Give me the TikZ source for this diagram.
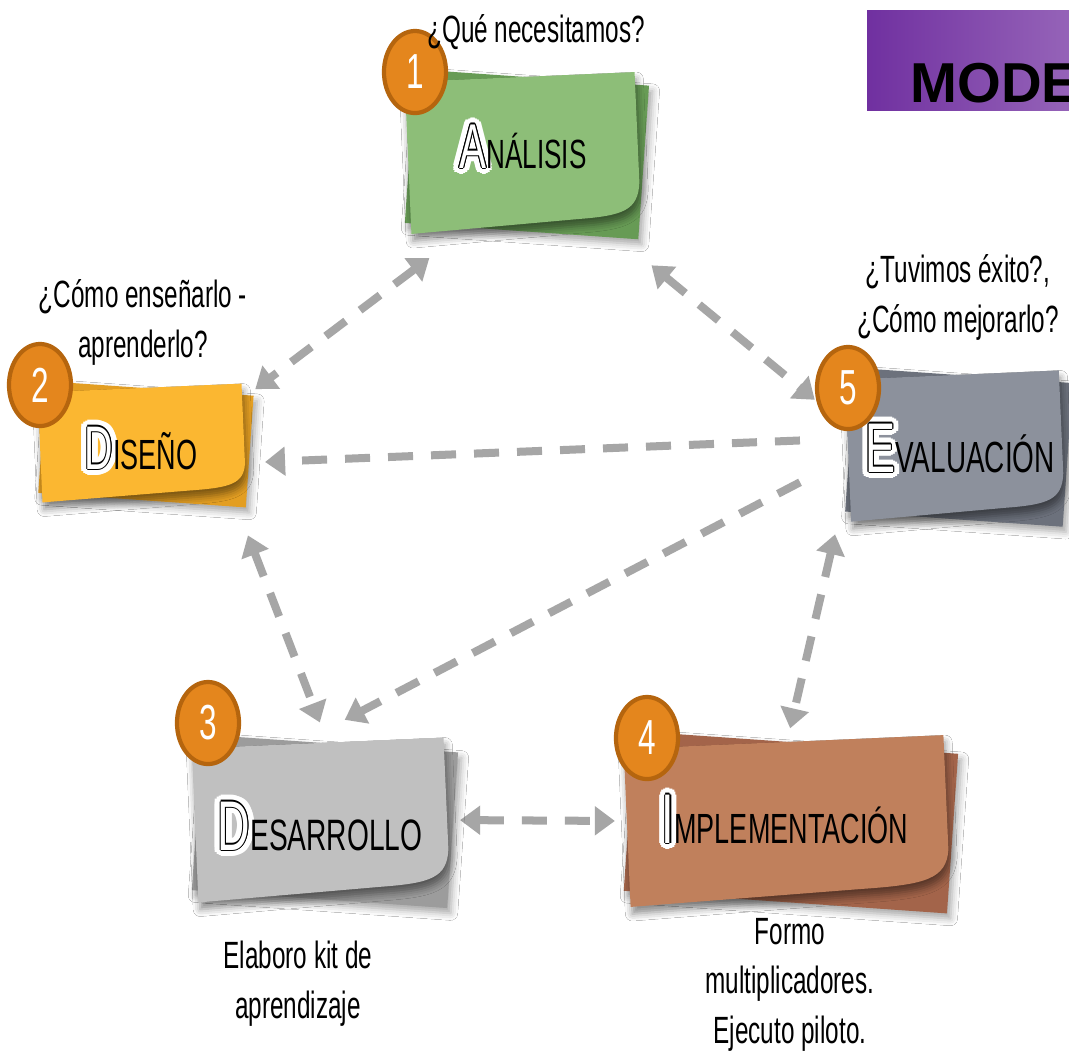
\documentclass[tikz,border=0pt]{standalone}
\usepackage{fontspec}
\setmainfont{Liberation Sans}
\newfontfamily\narrowfont{Liberation Sans}[FakeStretch=0.64]
\usetikzlibrary{arrows.meta,shapes.geometric,shadows.blur}

\definecolor{anagreen}{HTML}{8DBE78}
\definecolor{anadark}{HTML}{679B55}
\definecolor{disyellow}{HTML}{FBB731}
\definecolor{disdark}{HTML}{E39E22}
\definecolor{evagray}{HTML}{8C919C}
\definecolor{evadark}{HTML}{6C717C}
\definecolor{desgray}{HTML}{C0C0C0}
\definecolor{desdark}{HTML}{9C9C9C}
\definecolor{impbrown}{HTML}{C0805C}
\definecolor{impdark}{HTML}{A3644A}
\definecolor{badgeorange}{HTML}{E4861D}
\definecolor{badgeline}{HTML}{B5650E}
\definecolor{arrowgray}{HTML}{A6A6A6}
\definecolor{bannerleft}{HTML}{7030A0}
\definecolor{bannerright}{HTML}{9563B8}

% big first letter: white, thin black outline, white glow
\newcommand\initial[2]{%
  {\fontsize{#1}{#1}\selectfont
   \foreach \a in {0,22.5,...,337.5}{\rlap{\kern\fpeval{1.8*cosd(\a)}pt\raise\fpeval{1.8*sind(\a)}pt\hbox{\color{white}#2}}}%
   \foreach \a in {0,45,...,315}{\rlap{\kern\fpeval{0.3*cosd(\a)}pt\raise\fpeval{0.3*sind(\a)}pt\hbox{\color{black}#2}}}%
   \textcolor{white}{#2}}}

\tikzset{
  pics/note/.style n args={4}{code={
    % back sheet
    \fill[#4, rotate=-4, blur shadow={shadow xshift=1pt, shadow yshift=-1.5pt, shadow blur radius=2pt, shadow opacity=35}]
      (-#1+2,-#2) -- (#1+6,-#2) -- (#1+6,#2+2) -- (-#1+2,#2+2) -- cycle;
    % front sheet, curled corner bottom right
    \fill[#3, rotate=2.5, blur shadow={shadow xshift=0.5pt, shadow yshift=-2pt, shadow blur radius=2pt, shadow opacity=45}]
      (-#1,-#2) -- (#1,-#2) -- (#1,0.45*#2)
      .. controls (0.98*#1,0.82*#2) and (0.85*#1,0.88*#2) .. (0.45*#1,0.9*#2)
      -- (-#1,#2) -- cycle;
  }},
}

\begin{document}
\begin{tikzpicture}[x=0.01cm, y=-0.01cm,
  box/.style={rectangle, inner sep=0, outer sep=0},
  title/.style={font=\narrowfont, inner sep=0, anchor=base},
  txt/.style={font=\narrowfont\fontsize{10.8}{14}\selectfont, align=center, inner sep=0, anchor=base},
  badge/.style={ellipse, fill=badgeorange, draw=badgeline, line width=1.2pt,
    minimum width=0.62cm, minimum height=0.82cm, inner sep=0, text=white,
    font=\narrowfont\fontsize{14}{14}\selectfont},
  conn/.style={draw=arrowgray, line width=0.08cm, dash pattern=on 0.25cm off 0.18cm,
    >={Triangle[length=0.2cm,width=0.28cm]}}]

\useasboundingbox (0,0) rectangle (1069,1056);
\fill[white] (0,0) rectangle (1069,1056);
\clip (0,0) rectangle (1069,1056);

% banner
\fill[left color=bannerleft, right color=bannerright] (867,10) rectangle (1069,110);
\node[anchor=base west, inner sep=0, font=\bfseries\fontsize{16}{16}\selectfont] (banner) at (910,102) {MODE};

% card areas
\node[box, minimum width=2.3cm, minimum height=1.52cm] (ana) at (523,153) {};
\node[box, minimum width=2.04cm, minimum height=1.1cm] (dis) at (142,443) {};
\node[box, minimum width=2.14cm, minimum height=1.42cm] (eva) at (955,446) {};
\node[box, minimum width=2.52cm, minimum height=1.54cm] (des) at (321,820) {};
\node[box, minimum width=3.2cm, minimum height=1.58cm] (imp) at (787,821) {};

% connectors
\draw[conn, <->, shorten <=0.48cm, shorten >=0.14cm] (ana.234) -- (dis.24);
\draw[conn, <->, shorten <=0.57cm, shorten >=0.43cm] (ana.318) -- (eva.170);
\draw[conn, ->, shorten <=0.48cm, shorten >=0.21cm] (eva.176) -- (dis.349);
\draw[conn, ->, shorten <=0.54cm, shorten >=0.5cm] (eva.186) -- (des.105);
\draw[conn, <->, shorten <=0.4cm, shorten >=0.22cm] (dis.329) -- (des.85);
\draw[conn, <->, shorten <=0.57cm, shorten >=0.14cm] (eva.197) -- (imp.north);
\draw[conn, <->, shorten <=0.13cm, shorten >=0.12cm] (des.east) -- (imp.west);

% cards
\pic at (ana) {note={115}{76}{anagreen}{anadark}};
\pic at (dis) {note={102}{55}{disyellow}{disdark}};
\pic at (eva) {note={107}{71}{evagray}{evadark}};
\pic at (des) {note={126}{77}{desgray}{desdark}};
\pic at (imp) {note={160}{79}{impbrown}{impdark}};

\node[title] (anat) at (523,168) {\initial{18}{A}\fontsize{11.6}{12}\selectfont NÁLISIS};
\node[title] (dist) at (141,469) {\initial{17.5}{D}\fontsize{12}{12}\selectfont ISEÑO};
\node[title] (evat) at (960,472) {\initial{20}{E}\fontsize{12.4}{12}\selectfont VALUACIÓN};
\node[title] (dest) at (320,850) {\initial{20}{D}\fontsize{12.5}{13}\selectfont ESARROLLO};
\node[title] (impt) at (785,843) {\initial{20}{I}\fontsize{12}{12}\selectfont MPLEMENTACIÓN};

% step numbers
\node[badge] (n1) at (415,72) {1};
\node[badge] (n2) at (40,385) {2};
\node[badge] (n3) at (208,723) {3};
\node[badge] (n4) at (647,738) {4};
\node[badge] (n5) at (848,388) {5};

% questions and notes (base = last line)
\node[txt] (q1) at (536,42) {¿Qué necesitamos?};
\node[txt] (q2) at (143,357) {¿Cómo enseñarlo -\\aprenderlo?};
\node[txt] (q5) at (958,332) {¿Tuvimos éxito?,\\¿Cómo mejorarlo?};
\node[txt] (t3) at (298,1018) {Elaboro kit de\\aprendizaje};
\node[txt] (t4) at (790,1043) {Formo\\multiplicadores.\\Ejecuto piloto.};
\end{tikzpicture}
\end{document}
